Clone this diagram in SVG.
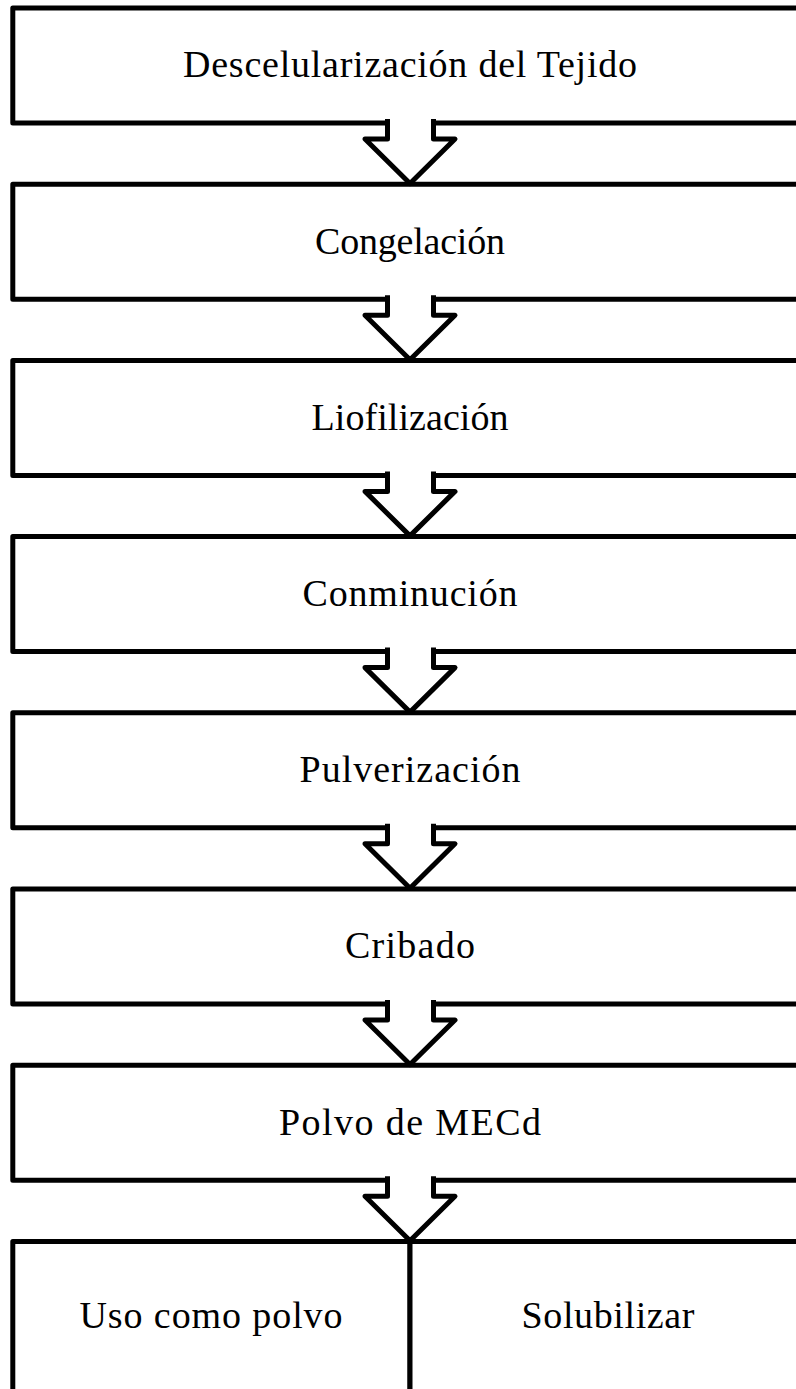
<svg xmlns="http://www.w3.org/2000/svg" width="796" height="1389" viewBox="0 0 796 1389">
<style>
.box{fill:#fff;stroke:#000;stroke-width:5;stroke-linejoin:round}
.arr{fill:#fff;stroke:#000;stroke-width:5;stroke-linejoin:round}
.lbl{font-family:'Liberation Serif',serif;font-size:38px;fill:#000;text-anchor:middle}
</style>
<rect width="796" height="1389" fill="#fff"/>
<g id="n1"><rect class="box" x="12.8" y="8" width="794.4" height="115"/><text class="lbl" x="410" y="77.3" textLength="454" lengthAdjust="spacing">Descelularización del Tejido</text></g>
<g id="n2"><rect class="box" x="12.8" y="184.2" width="794.4" height="115"/><text class="lbl" x="410" y="253.5" textLength="190" lengthAdjust="spacing">Congelación</text></g>
<g id="n3"><rect class="box" x="12.8" y="360.4" width="794.4" height="115"/><text class="lbl" x="410" y="429.7" textLength="197" lengthAdjust="spacing">Liofilización</text></g>
<g id="n4"><rect class="box" x="12.8" y="536.6" width="794.4" height="115"/><text class="lbl" x="410" y="605.9" textLength="215" lengthAdjust="spacing">Conminución</text></g>
<g id="n5"><rect class="box" x="12.8" y="712.8" width="794.4" height="115"/><text class="lbl" x="410" y="782.1" textLength="221" lengthAdjust="spacing">Pulverización</text></g>
<g id="n6"><rect class="box" x="12.8" y="889" width="794.4" height="115"/><text class="lbl" x="410" y="958.3" textLength="130" lengthAdjust="spacing">Cribado</text></g>
<g id="n7"><rect class="box" x="12.8" y="1065.2" width="794.4" height="115"/><text class="lbl" x="410" y="1134.5" textLength="262" lengthAdjust="spacing">Polvo de MECd</text></g>
<g id="n8"><rect class="box" x="12.8" y="1241.4" width="397.2" height="180"/><text class="lbl" x="211" y="1328.3" textLength="263" lengthAdjust="spacing">Uso como polvo</text></g>
<g id="n9"><rect class="box" x="410" y="1241.4" width="397.2" height="180"/><text class="lbl" x="608" y="1328.3" textLength="173" lengthAdjust="spacing">Solubilizar</text></g>
<g id="connectors">
<path class="arr" d="M387.5 119 V139 H365 L410 183.5 L455 139 H433.5 V119"/>
<path class="arr" d="M387.5 295.2 V315.2 H365 L410 359.7 L455 315.2 H433.5 V295.2"/>
<path class="arr" d="M387.5 471.4 V491.4 H365 L410 535.9 L455 491.4 H433.5 V471.4"/>
<path class="arr" d="M387.5 647.6 V667.6 H365 L410 712.1 L455 667.6 H433.5 V647.6"/>
<path class="arr" d="M387.5 823.8 V843.8 H365 L410 888.3 L455 843.8 H433.5 V823.8"/>
<path class="arr" d="M387.5 1000 V1020 H365 L410 1064.5 L455 1020 H433.5 V1000"/>
<path class="arr" d="M387.5 1176.2 V1196.2 H365 L410 1240.7 L455 1196.2 H433.5 V1176.2"/>
</g>
</svg>
